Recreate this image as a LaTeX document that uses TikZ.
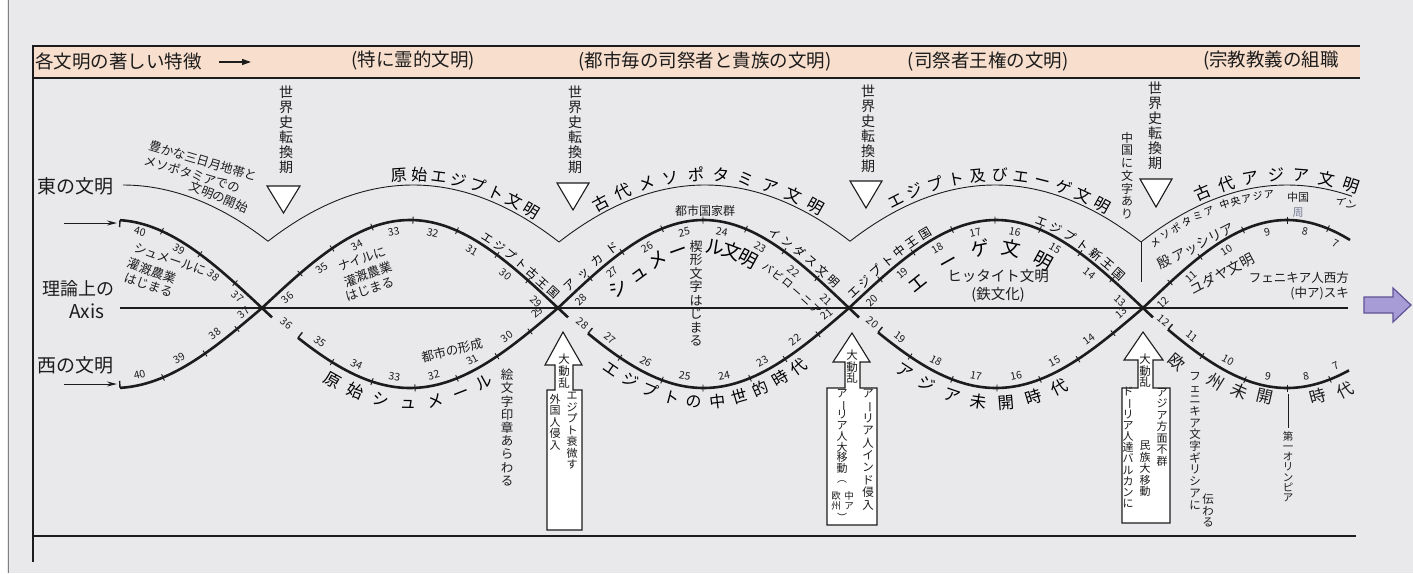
\documentclass[tikz,border=0pt]{standalone}
\usepackage{fontspec}
\usepackage{graphicx}
\newfontfamily\jp{Noto Sans CJK JP}
\usetikzlibrary{decorations.text,arrows.meta}
\definecolor{bgc}{RGB}{233,233,236}
\definecolor{peach}{RGB}{247,222,205}
\definecolor{lav}{RGB}{168,156,214}
\definecolor{lavd}{RGB}{96,82,150}
\definecolor{ink}{RGB}{28,28,28}
\definecolor{zhou}{RGB}{120,125,150}
\newcommand\fs[1]{\fontsize{#1}{#1}\selectfont}
\makeatletter
\def\vs@bar{ー}
\newcommand\vstack[1]{\vbox{\lineskiplimit=-\maxdimen\lineskip=0pt\relax
  \@tfor\vs@c:=#1\do{\hbox to 1.1em{\hss\ifx\vs@c\vs@bar\rotatebox[origin=c]{-90}{ー}\else\vs@c\fi\hss}}}}
\makeatother
% ticks / numbers on upper and lower arches: #1=c, #2=p, #3=x
\newcommand\UT[3]{\pgfmathsetmacro\myCY{upper(#3,#1,#2)}\pgfmathsetmacro\myCA{-atan(uslope(#3,#1,#2))}%
  \begin{scope}[shift={(#3,\myCY)},rotate=\myCA]\draw[tickl] (0,-3.5) -- (0,3.5);\end{scope}}
\newcommand\LT[3]{\pgfmathsetmacro\myCY{lower(#3,#1,#2)}\pgfmathsetmacro\myCA{-atan(lslope(#3,#1,#2))}%
  \begin{scope}[shift={(#3,\myCY)},rotate=\myCA]\draw[tickl] (0,-3.5) -- (0,3.5);\end{scope}}
\newcommand\UN[5]{\pgfmathsetmacro\myCY{upper(#3,#1,#2)}\pgfmathsetmacro\myCA{-atan(uslope(#3,#1,#2))}%
  \begin{scope}[shift={(#3,\myCY)},rotate=\myCA]\node[num,transform shape] (un#4) at (0,#5) {#4};\end{scope}}
\newcommand\LN[5]{\pgfmathsetmacro\myCY{lower(#3,#1,#2)}\pgfmathsetmacro\myCA{-atan(lslope(#3,#1,#2))}%
  \begin{scope}[shift={(#3,\myCY)},rotate=\myCA]\node[num,transform shape] (ln#4) at (0,#5) {#4};\end{scope}}
\newcommand\UH[3]{\pgfmathsetmacro\myCY{upper(#3,#1,#2)}\pgfmathsetmacro\myCA{-atan(uslope(#3,#1,#2))}%
  \begin{scope}[shift={(#3,\myCY)},rotate=\myCA]\draw[hookl] (0,0) -- (0,7);\end{scope}}
\newcommand\LH[3]{\pgfmathsetmacro\myCY{lower(#3,#1,#2)}\pgfmathsetmacro\myCA{-atan(lslope(#3,#1,#2))}%
  \begin{scope}[shift={(#3,\myCY)},rotate=\myCA]\draw[hookl] (0,0) -- (0,-7);\end{scope}}
\begin{document}
\begin{tikzpicture}[x=1pt,y=-1pt,
 declare function={upper(\xx,\cc,\pp)=308-88*sin(180/\pp*(\xx-\cc));
   lower(\xx,\cc,\pp)=308+80*sin(180/\pp*(\xx-\cc));
   uslope(\xx,\cc,\pp)=-88*pi/\pp*cos(180/\pp*(\xx-\cc));
   lslope(\xx,\cc,\pp)=80*pi/\pp*cos(180/\pp*(\xx-\cc));
   thin(\xx,\cc)=185+57*((\xx-\cc)/146)*((\xx-\cc)/146);},
 thk/.style={draw=ink,line width=2.6pt},
 thinl/.style={draw=ink,line width=0.9pt},
 axisl/.style={draw=ink,line width=1.4pt},
 tickl/.style={draw=ink,line width=0.9pt},
 hookl/.style={draw=ink,line width=1.4pt},
 num/.style={font=\jp\fs{10.5},text=ink,inner sep=0pt},
 lbl/.style={font=\jp\fs{#1},text=ink,inner sep=0pt},
 vt/.style 2 args={font=\jp\fontsize{#1}{#2}\selectfont,text=ink,anchor=north,inner sep=0pt},
 ctext/.style n args={3}{decorate,decoration={text along path,text={|\jp\fs{#1}|#2},text align={fit to path},raise=#3}},
 tri/.style={draw=ink,fill=white,line width=1.1pt,line join=miter},
 barrow/.style={draw=ink,fill=white,line width=1.1pt,line join=miter},
]
\useasboundingbox (0,0) rectangle (1413,573);
\fill[bgc] (0,0) rectangle (1413,573);
\fill[white] (0,0) rectangle (7,573);
\draw[gray,line width=1pt] (8,0) -- (8,573);
% header bar
\fill[peach] (32,46) rectangle (1360,78);
\draw[ink,line width=1.3pt] (32,46) -- (1360,46);
\draw[ink,line width=1.3pt] (32,78) -- (1360,78);
\draw[ink,line width=1.2pt] (33,46) -- (33,562);
\draw[ink,line width=1.2pt] (33,536) -- (1356,536);
\node[lbl=18.5,anchor=west] (hdr) at (35,61) {各文明の著しい特徴};
\coordinate (ha0) at (219,62); \coordinate (ha1) at (251,62);
\draw[ink,line width=1.2pt,-{Triangle[length=9pt,width=6pt]}] (ha0) -- (ha1);
\node[lbl=18.5] (ph1) at (413,61) {(特に霊的文明)};
\node[lbl=18.5] (ph2) at (705,61) {(都市毎の司祭者と貴族の文明)};
\node[lbl=18.5] (ph3) at (988,61) {(司祭者王権の文明)};
\node[lbl=18.5,anchor=west] (ph4) at (1203,61) {(宗教教義の組職};
% left labels
\node[lbl=19] (east) at (75,186) {東の文明};
\node[lbl=18] (riron) at (78,289) {理論上の};
\node[lbl=19] (axisname) at (87,311) {Axis};
\node[lbl=19] (west) at (75,365) {西の文明};
\coordinate (ea0) at (64,223); \coordinate (ea1) at (117,223);
\coordinate (wa0) at (64,384); \coordinate (wa1) at (117,384);
\draw[ink,line width=1pt,-{Stealth[length=10pt,width=5pt]}] (ea0) -- (ea1);
\draw[ink,line width=1pt,-{Stealth[length=10pt,width=5pt]}] (wa0) -- (wa1);
% axis
\coordinate (ax0) at (120,308); \coordinate (ax1) at (1348,308);
\draw[axisl] (ax0) -- (ax1);
% thin east curve
\draw[thinl] plot[domain=123:268,samples=30] (\x,{thin(\x,123)});
\draw[thinl] plot[domain=268:559,samples=50] (\x,{thin(\x,413)});
\draw[thinl] plot[domain=559:850,samples=50] (\x,{thin(\x,705)});
\draw[thinl] plot[domain=850:1141,samples=50] (\x,{thin(\x,995)});
\draw[thinl] plot[domain=1141:1352,samples=40] (\x,{thin(\x,1287)});
\coordinate (v4a) at (1141,242); \coordinate (v4b) at (1141,282);
\draw[thinl] (v4a) -- (v4b);
% turning point triangles
\draw[tri] (267,186) -- (300,186) -- (283.5,213) -- cycle;
\draw[tri] (557,183) -- (589,183) -- (573,210) -- cycle;
\draw[tri] (850,181) -- (882,181) -- (866,208) -- cycle;
\draw[tri] (1140,179) -- (1172,179) -- (1156,207) -- cycle;
\node[vt={14}{15}] (tw1) at (286,86) {\vstack{世界史転換期}};
\node[vt={14}{15}] (tw2) at (575,86) {\vstack{世界史転換期}};
\node[vt={14}{15}] (tw3) at (868,85) {\vstack{世界史転換期}};
\node[vt={14}{15}] (tw4) at (1155,82) {\vstack{世界史転換期}};
% thick curves
\draw[thk] plot[domain=120:272,samples=40] (\x,{upper(\x,558,296)});
\draw[thk] plot[domain=120:262,samples=40] (\x,{lower(\x,558,296)});
\draw[thk] plot[domain=262:568,samples=80] (\x,{upper(\x,262,296)});
\draw[thk] plot[domain=298:558,samples=70] (\x,{lower(\x,262,296)});
\draw[thk] plot[domain=558:859,samples=80] (\x,{upper(\x,558,291)});
\draw[thk] plot[domain=588:849,samples=70] (\x,{lower(\x,558,291)});
\draw[thk] plot[domain=849:1153,samples=80] (\x,{upper(\x,849,294)});
\draw[thk] plot[domain=878:1143,samples=70] (\x,{lower(\x,849,294)});
\draw[thk] plot[domain=1143:1350,samples=60] (\x,{upper(\x,1143,288)});
\draw[thk] plot[domain=1168:1349,samples=60] (\x,{lower(\x,1143,288)});
\UH{558}{296}{120} \LH{558}{296}{120}
\LH{262}{296}{298} \LH{558}{291}{588} \LH{849}{294}{878} \LH{1143}{288}{1168}
% ticks and numbers
\foreach \x in {162,200,235} {\UT{558}{296}{\x}}
\foreach \x/\n in {142/40,183/39,219/38,243/37} {\UN{558}{296}{\x}{\n}{8}}
\foreach \x in {163,205,237} {\LT{558}{296}{\x}}
\foreach \x/\n in {142/40,184/39,221/38} {\LN{558}{296}{\x}{\n}{-10}}
\LN{558}{296}{249}{37}{-8}
\foreach \x in {300,332,372,413,457,497,528} {\UT{262}{296}{\x}}
\foreach \x/\n in {281/36,316/35,352/34,392/33,435/32,477/31,512/30,543/29} {\UN{262}{296}{\x}{\n}{10}}
\foreach \x in {332,372,415,457,497,530} {\LT{262}{296}{\x}}
\LN{262}{296}{284}{36}{-4}
\foreach \x/\n in {314/35,352/34,393/33,436/32,477/31,513/30,544/29} {\LN{262}{296}{\x}{\n}{-10}}
\foreach \x in {590,622,662,703,746,784,817} {\UT{558}{291}{\x}}
\foreach \x/\n in {574/28,606/27,642/26,682/25,724/24,765/23,800/22,833/21} {\UN{558}{291}{\x}{\n}{10}}
\foreach \x in {620,662,703,750,785,818} {\LT{558}{291}{\x}}
\LN{558}{291}{580}{28}{-4}
\foreach \x/\n in {604/27,641/26,683/25,726/24,767/23,801/22,833/21} {\LN{558}{291}{\x}{\n}{-10}}
\foreach \x in {880,913,952,995,1040,1080,1112} {\UT{849}{294}{\x}}
\foreach \x/\n in {865/20,896/19,932/18,973/17,1017/16,1060/15,1096/14,1127/13} {\UN{849}{294}{\x}{\n}{10}}
\foreach \x in {910,952,997,1040,1078,1113} {\LT{849}{294}{\x}}
\LN{849}{294}{870}{20}{-4}
\foreach \x/\n in {894/19,931/18,974/17,1018/16,1059/15,1095/14,1128/13} {\LN{849}{294}{\x}{\n}{-10}}
\foreach \x in {1170,1200,1243,1287,1328} {\UT{1143}{288}{\x}}
\foreach \x/\n in {1156/12,1185/11,1221/10,1265/9,1307/8,1340/7} {\UN{1143}{288}{\x}{\n}{10}}
\foreach \x in {1202,1245,1287,1330} {\LT{1143}{288}{\x}}
\LN{1143}{288}{1161}{12}{-4}
\foreach \x/\n in {1186/11,1223/10,1266/9,1308/8,1340/7} {\LN{1143}{288}{\x}{\n}{-10}}
% curved texts
\path[ctext={16}{原始エジプト文明}{4pt}] plot[domain=392:533,samples=40] (\x,{thin(\x,413)});
\path[ctext={16.5}{古代メソポタミア文明}{4pt}] plot[domain=598:818,samples=50] (\x,{thin(\x,705)});
\path[ctext={16}{エジプト及びエーゲ文明}{4pt}] plot[domain=893:1105,samples=50] (\x,{thin(\x,995)});
\path[ctext={16.5}{古代アジア文明}{4pt}] plot[domain=1199:1356,samples=40] (\x,{thin(\x,1287)});
\path[ctext={10}{メソポタミア}{-12.5pt}] plot[domain=1146:1210,samples=20] (\x,{thin(\x,1287)});
\path[ctext={10}{中央アジア}{-12.5pt}] plot[domain=1217:1273,samples=20] (\x,{thin(\x,1287)});
\path[ctext={16.5}{原始シュメール}{-21pt}] plot[domain=333:484,samples=50] (\x,{lower(\x,262,296)});
\path[ctext={16}{エジプトの中世的時代}{-20pt}] plot[domain=613:797,samples=50] (\x,{lower(\x,558,291)});
\path[ctext={16.5}{アジア未開時代}{-21pt}] plot[domain=906:1060,samples=50] (\x,{lower(\x,849,294)});
\path[ctext={19}{シュメー}{-33pt}] plot[domain=594:678,samples=30] (\x,{upper(\x,558,291)});
\path[ctext={19}{ル文明}{-33pt}] plot[domain=710:769,samples=30] (\x,{upper(\x,558,291)});
\path[ctext={19}{エーゲ文明}{-34pt}] plot[domain=893:1064,samples=50] (\x,{upper(\x,849,294)});
\path[ctext={11.5}{エジプト古王国}{4pt}] plot[domain=478:552,samples=30] (\x,{upper(\x,262,296)});
\path[ctext={12}{アッカド}{4pt}] plot[domain=571:622,samples=20] (\x,{upper(\x,558,291)});
\path[ctext={11.5}{インダス文明}{5pt}] plot[domain=765:832,samples=30] (\x,{upper(\x,558,291)});
\path[ctext={10.5}{バビローニア}{-27pt}] plot[domain=777:836,samples=30] (\x,{upper(\x,558,291)});
\path[ctext={12}{エジプト中王国}{4pt}] plot[domain=855:935,samples=30] (\x,{upper(\x,849,294)});
\path[ctext={12}{エジプト新王国}{4pt}] plot[domain=1033:1118,samples=30] (\x,{upper(\x,849,294)});
% 欧州未開時代, placed one character at a time
\node[lbl=16.5,rotate=-40] (ou1) at (1177,362) {欧};
\node[lbl=16.5,rotate=-32] (ou2) at (1216,382) {州};
\node[lbl=16.5,rotate=-24] (ou3) at (1240,391) {未};
\node[lbl=16.5,rotate=-13] (ou4) at (1265,397) {開};
\node[lbl=16.5,rotate=15] (ou5) at (1318,396) {時};
\node[lbl=16.5,rotate=26] (ou6) at (1345,390) {代};
% straight labels
\node[lbl=12.4,rotate=-16.6] (yt1) at (203,161) {豊かな三日月地帯と};
\node[lbl=12.4,rotate=-16.5] (yt2) at (192,174) {メソポタミアでの};
\node[lbl=12.4,rotate=-22.6] (yt3) at (219,197) {文明の開始};
\node[lbl=12.5,rotate=-19] (st1) at (170,259) {シュメールに};
\node[lbl=12.5,rotate=-20] (st2) at (152,271) {灌漑農業};
\node[lbl=12.5,rotate=-19] (st3) at (149,285) {はじまる};
\node[lbl=12.5,rotate=20] (nt1) at (362,259) {ナイルに};
\node[lbl=12.5,rotate=20] (nt2) at (368,274) {灌漑農業};
\node[lbl=12.5,rotate=18] (nt3) at (370,289) {はじまる};
\node[lbl=12.5,rotate=14] (tshi) at (452,350) {都市の形成};
\node[lbl=12] (tkg) at (705,211) {都市国家群};
\node[lbl=14.5] (hit) at (998,276) {ヒッタイト文明};
\node[lbl=14.5] (tetsu) at (998,295) {(鉄文化)};
\node[lbl=13.5,rotate=27] (assy) at (1196,246) {殷 アッシリア};
\node[lbl=14,rotate=28] (yuda) at (1222,274) {ユダヤ文明};
\node[font=\jp\fontsize{12.5}{15}\selectfont,text=ink,inner sep=0pt,anchor=east,align=right] (phoen) at (1349,286) {フェニキア人西方\\(中ア)スキ};
\node[lbl=11] (chg) at (1298,197) {中国};
\node[lbl=11,text=zhou] (zhou) at (1298,213) {周};
\node[lbl=11,rotate=-25] (inn) at (1346,203) {イン};
% vertical texts
\node[vt={12}{12.7}] (mojiari) at (1127,132) {\vstack{中国に文字あり}};
\node[vt={13}{13.5}] (kusa) at (696,240) {\vstack{楔形文字はじまる}};
\node[vt={12.5}{13.2}] (emoji) at (507,369) {\vstack{絵文字印章あらわる}};
% upward block arrows
\draw[barrow] (563,332) -- (582,365) -- (573,365) -- (573,390) -- (582,390) -- (582,530) -- (547,530) -- (547,390) -- (555,390) -- (555,365) -- (545,365) -- cycle;
\draw[barrow] (852,333) -- (870,362) -- (860,362) -- (860,388) -- (877,388) -- (877,525) -- (827,525) -- (827,388) -- (845,388) -- (845,362) -- (833,362) -- cycle;
\draw[barrow] (1143,332) -- (1163,360) -- (1153,360) -- (1153,388) -- (1170,388) -- (1170,523) -- (1122,523) -- (1122,388) -- (1138,388) -- (1138,360) -- (1124,360) -- cycle;
\node[vt={11.5}{12}] (a1t) at (564,354) {\vstack{大動乱}};
\node[vt={11}{11.5}] (a1r) at (572,392) {\vstack{エジプト衰微す}};
\node[vt={11}{11.5}] (a1l) at (555,394) {\vstack{外国人侵入}};
\node[vt={11.5}{11.5}] (a2t) at (852,350) {\vstack{大動乱}};
\node[vt={11.5}{12.4}] (a2r) at (868,389) {\vstack{アーリア人インド侵入}};
\node[vt={11}{10.8}] (a2l) at (842,389) {\vstack{アーリア人大移動}};
\node[vt={10}{10}] (a2p1) at (842,480) {︵};
\node[vt={9.5}{10.5}] (a2c1) at (836,491) {\vstack{欧州}};
\node[vt={9.5}{10.5}] (a2c2) at (849,491) {\vstack{中ア}};
\node[vt={10}{10}] (a2p2) at (842,513) {︶};
\node[vt={11.5}{11.5}] (a3t) at (1145,354) {\vstack{大動乱}};
\node[vt={11}{11.5}] (a3r) at (1162,388) {\vstack{アジア方面不群}};
\node[vt={11}{11.5}] (a3m) at (1145,441) {\vstack{民族大移動}};
\node[vt={11}{11.2}] (a3l) at (1128,387) {\vstack{ドーリア人達バルカンに}};
\node[vt={11.5}{11.7}] (phg) at (1195,372) {\vstack{フェニキア文字ギリシアに}};
\node[vt={11.5}{11.5}] (tsut) at (1208,494) {\vstack{伝わる}};
\coordinate (ol0) at (1288,394); \coordinate (ol1) at (1288,428);
\draw[ink,line width=1pt] (ol0) -- (ol1);
\node[vt={10.5}{10.3}] (olym) at (1288,431) {\vstack{第一オリンピア}};
% purple arrow
\draw[fill=lav,draw=lavd,line width=1.2pt,line join=miter] (1364,297) -- (1393,297) -- (1393,288) -- (1411,305) -- (1393,322) -- (1393,313) -- (1364,313) -- cycle;
\end{tikzpicture}
\end{document}
